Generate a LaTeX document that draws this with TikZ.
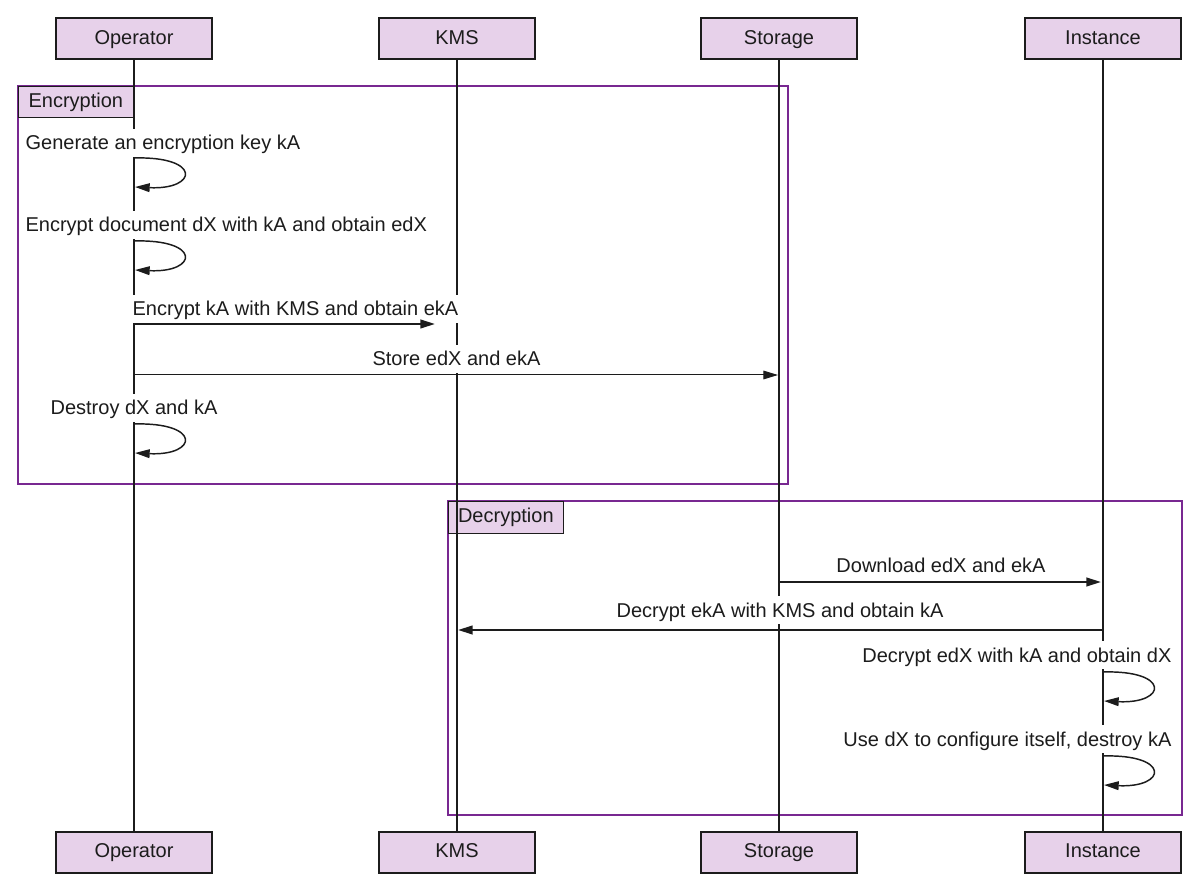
\documentclass[tikz,border=0pt]{standalone}
\usepackage{fontspec}
\setmainfont{Liberation Sans}
\usetikzlibrary{arrows.meta}
\definecolor{lav}{RGB}{231,209,234}
\definecolor{grpline}{RGB}{120,40,145}
\definecolor{ink}{RGB}{28,28,28}

\begin{document}
\begin{tikzpicture}[x=0.75pt,y=-0.75pt,
  font=\fontsize{15}{18}\selectfont,
  actor/.style={draw=ink, line width=1.5pt, fill=lav, minimum width=117pt,
    minimum height=30.75pt, inner sep=0pt, text=ink,
    text height=10.8pt, text depth=3.2pt},
  lifeline/.style={draw=ink, line width=1.5pt},
  grp/.style={draw=grpline, line width=1.5pt},
  grplabel/.style={draw=ink, line width=0.75pt, fill=lav, minimum width=86pt,
    minimum height=23.5pt, inner sep=0pt, anchor=north west, text=ink,
    text height=10.8pt, text depth=3.2pt},
  msg/.style={fill=white, text=ink, inner xsep=1pt, inner ysep=2pt,
    text height=13.5pt, text depth=3.2pt},
  tip/.style={-{Triangle[length=11pt,width=6.5pt]}},
  call/.style={tip, draw=ink, line width=1.5pt},
  thincall/.style={tip, draw=ink, line width=0.75pt},
  selfcall/.style={tip, draw=ink, line width=1.1pt},
]
\useasboundingbox (0,0) rectangle (1195,887);

% group frames with their labels
\draw[grp] (18,86) rectangle (788,484);
\node[grplabel] (encLabel) at (18,86) {Encryption};
\draw[grp] (448,501) rectangle (1182,815);
\node[grplabel, minimum height=24pt] (decLabel) at (448,501) {Decryption};

% participants, top and bottom
\node[actor] (opT) at (134,39) {Operator};
\node[actor] (kmsT) at (457,39) {KMS};
\node[actor] (stT) at (779,39) {Storage};
\node[actor] (inT) at (1103,39) {Instance};
\node[actor] (opB) at (134,852) {Operator};
\node[actor] (kmsB) at (457,852) {KMS};
\node[actor] (stB) at (779,852) {Storage};
\node[actor] (inB) at (1103,852) {Instance};

% lifelines
\draw[lifeline] (opT.south) -- (opB.north);
\draw[lifeline] (kmsT.south) -- (kmsB.north);
\draw[lifeline] (stT.south) -- (stB.north);
\draw[lifeline] (inT.south) -- (inB.north);

% redraw participant boxes over the lifeline ends
\node[actor] at (opT) {Operator};
\node[actor] at (kmsT) {KMS};
\node[actor] at (stT) {Storage};
\node[actor] at (inT) {Instance};
\node[actor] at (opB) {Operator};
\node[actor] at (kmsB) {KMS};
\node[actor] at (stB) {Storage};
\node[actor] at (inB) {Instance};

% message labels (white backing hides the lifelines behind them)
\node[msg, anchor=base west] (m1) at (24,150) {Generate an encryption key kA};
\node[msg, anchor=base west] (m2) at (24,232) {Encrypt document dX with kA and obtain edX};
\node[msg, anchor=base] (m3) at (295.5,316) {Encrypt kA with KMS and obtain ekA};
\node[msg, anchor=base] (m4) at (456.5,366) {Store edX and ekA};
\node[msg, anchor=base] (m5) at (134,415) {Destroy dX and kA};
\node[msg, anchor=base] (m6) at (941,572) {Download edX and ekA};
\node[msg, anchor=base] (m7) at (780,617) {Decrypt ekA with KMS and obtain kA};
\node[msg, anchor=base east] (m8) at (1173,662) {Decrypt edX with kA and obtain dX};
\node[msg, anchor=base east] (m9) at (1173,746) {Use dX to configure itself, destroy kA};

% message end points on the lifelines
\coordinate (g1a) at (134,158);  \coordinate (g1b) at (135,187);
\coordinate (g2a) at (134,241);  \coordinate (g2b) at (135,270);
\coordinate (e3a) at (134,324);  \coordinate (e3b) at (435,324);
\coordinate (s4a) at (134,375);  \coordinate (s4b) at (778,375);
\coordinate (d5a) at (134,424);  \coordinate (d5b) at (135,453);
\coordinate (w6a) at (779,582);  \coordinate (w6b) at (1101,582);
\coordinate (k7a) at (1103,630); \coordinate (k7b) at (458,630);
\coordinate (x8a) at (1103,672); \coordinate (x8b) at (1104,701);
\coordinate (u9a) at (1103,756); \coordinate (u9b) at (1104,785);

% encryption phase
\draw[selfcall] (g1a) .. controls (202,156) and (198,190) .. (g1b);
\draw[selfcall] (g2a) .. controls (202,239) and (198,273) .. (g2b);
\draw[call] (e3a) -- (e3b);
\draw[thincall] (s4a) -- (s4b);
\draw[selfcall] (d5a) .. controls (202,422) and (198,456) .. (d5b);

% decryption phase
\draw[call] (w6a) -- (w6b);
\draw[call] (k7a) -- (k7b);
\draw[selfcall] (x8a) .. controls (1171,670) and (1167,704) .. (x8b);
\draw[selfcall] (u9a) .. controls (1171,754) and (1167,788) .. (u9b);
\end{tikzpicture}
\end{document}
